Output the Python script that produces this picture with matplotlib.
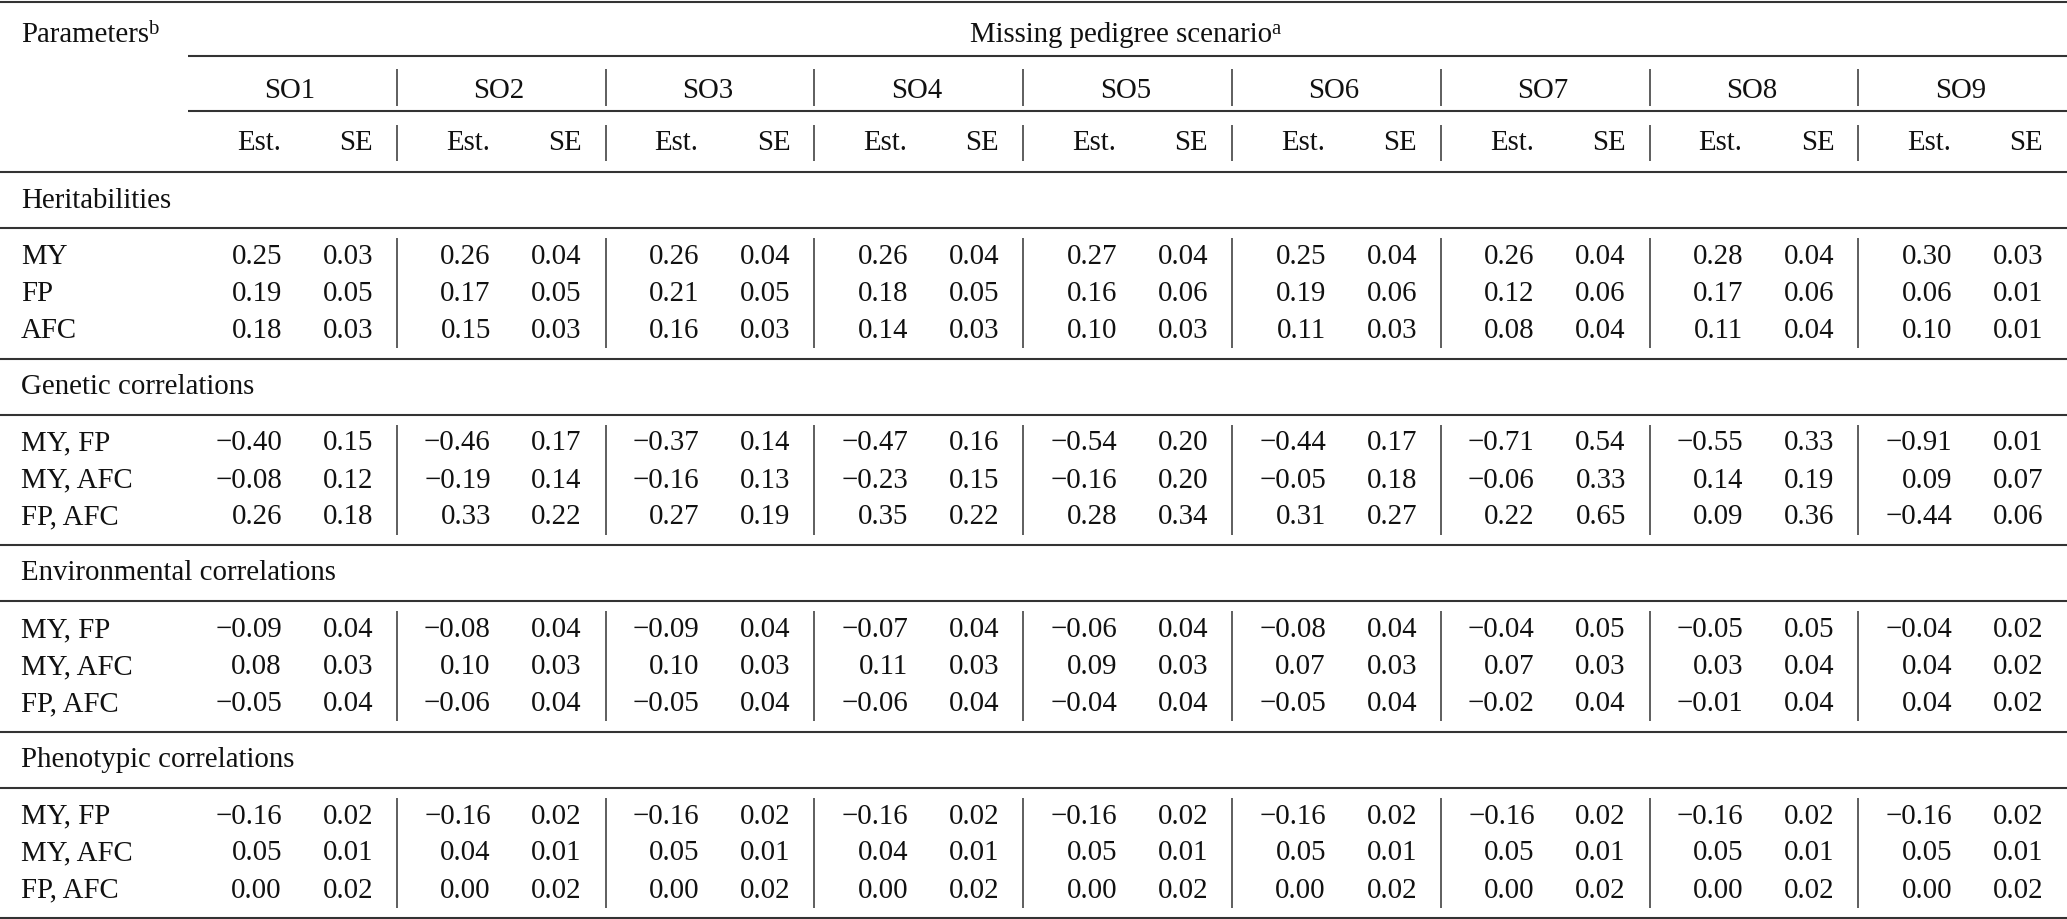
import matplotlib.pyplot as plt

plt.rcParams['font.family'] = ['Liberation Serif', 'DejaVu Serif']

scenarios = ['SO1', 'SO2', 'SO3', 'SO4', 'SO5', 'SO6', 'SO7', 'SO8', 'SO9']
traits = ['MY', 'FP', 'AFC']
pairs = ['MY, FP', 'MY, AFC', 'FP, AFC']

# Heritabilities (rows: MY, FP, AFC; columns: SO1..SO9)
herit_est = [[0.25, 0.26, 0.26, 0.26, 0.27, 0.25, 0.26, 0.28, 0.30],
             [0.19, 0.17, 0.21, 0.18, 0.16, 0.19, 0.12, 0.17, 0.06],
             [0.18, 0.15, 0.16, 0.14, 0.10, 0.11, 0.08, 0.11, 0.10]]
herit_se = [[0.03, 0.04, 0.04, 0.04, 0.04, 0.04, 0.04, 0.04, 0.03],
            [0.05, 0.05, 0.05, 0.05, 0.06, 0.06, 0.06, 0.06, 0.01],
            [0.03, 0.03, 0.03, 0.03, 0.03, 0.03, 0.04, 0.04, 0.01]]

# Genetic correlations
gen_est = [[-0.40, -0.46, -0.37, -0.47, -0.54, -0.44, -0.71, -0.55, -0.91],
           [-0.08, -0.19, -0.16, -0.23, -0.16, -0.05, -0.06, 0.14, 0.09],
           [0.26, 0.33, 0.27, 0.35, 0.28, 0.31, 0.22, 0.09, -0.44]]
gen_se = [[0.15, 0.17, 0.14, 0.16, 0.20, 0.17, 0.54, 0.33, 0.01],
          [0.12, 0.14, 0.13, 0.15, 0.20, 0.18, 0.33, 0.19, 0.07],
          [0.18, 0.22, 0.19, 0.22, 0.34, 0.27, 0.65, 0.36, 0.06]]

# Environmental correlations
env_est = [[-0.09, -0.08, -0.09, -0.07, -0.06, -0.08, -0.04, -0.05, -0.04],
           [0.08, 0.10, 0.10, 0.11, 0.09, 0.07, 0.07, 0.03, 0.04],
           [-0.05, -0.06, -0.05, -0.06, -0.04, -0.05, -0.02, -0.01, 0.04]]
env_se = [[0.04, 0.04, 0.04, 0.04, 0.04, 0.04, 0.05, 0.05, 0.02],
          [0.03, 0.03, 0.03, 0.03, 0.03, 0.03, 0.03, 0.04, 0.02],
          [0.04, 0.04, 0.04, 0.04, 0.04, 0.04, 0.04, 0.04, 0.02]]

# Phenotypic correlations
phen_est = [[-0.16, -0.16, -0.16, -0.16, -0.16, -0.16, -0.16, -0.16, -0.16],
            [0.05, 0.04, 0.05, 0.04, 0.05, 0.05, 0.05, 0.05, 0.05],
            [0.00, 0.00, 0.00, 0.00, 0.00, 0.00, 0.00, 0.00, 0.00]]
phen_se = [[0.02, 0.02, 0.02, 0.02, 0.02, 0.02, 0.02, 0.02, 0.02],
           [0.01, 0.01, 0.01, 0.01, 0.01, 0.01, 0.01, 0.01, 0.01],
           [0.02, 0.02, 0.02, 0.02, 0.02, 0.02, 0.02, 0.02, 0.02]]

sections = [('Heritabilities', traits, herit_est, herit_se),
            ('Genetic correlations', pairs, gen_est, gen_se),
            ('Environmental correlations', pairs, env_est, env_se),
            ('Phenotypic correlations', pairs, phen_est, phen_se)]

W, H = 2067, 919
fig = plt.figure(figsize=(W / 100, H / 100), dpi=100)
ax = fig.add_axes([0, 0, 1, 1])
ax.set_xlim(0, W)
ax.set_ylim(H, 0)
ax.axis('off')
renderer = fig.canvas.get_renderer()

fs = 20.8
tc = '#111111'
lc = '#333333'
half = 9.5          # half digit height, centre -> baseline
x_lab = 21
g0, gw = 188, 208.8


def txt(x, yc, s, ha='left', size=fs):
    return ax.text(x, yc + half, s, ha=ha, va='baseline', fontsize=size, color=tc)


def txt_sup(x, yc, s, sup, ha='left'):
    # main text plus a raised, smaller footnote letter
    t = txt(x, yc, s, ha=ha)
    bb = t.get_window_extent(renderer)
    x_end = ax.transData.inverted().transform((bb.x1, bb.y0))[0]
    ax.text(x_end - 1, yc + half - 9, sup, ha='left', va='baseline',
            fontsize=fs * 0.72, color=tc)


def hline(y, x0=0, x1=W):
    ax.plot([x0, x1], [y, y], color=lc, lw=1.5, solid_capstyle='butt')


def vline(x, y0, y1):
    ax.plot([x, x], [y0, y1], color=lc, lw=1.1, solid_capstyle='butt')


def fmt(v):
    return '{:.2f}'.format(v).replace('-', '\u2212')


# header
hline(1.5)
txt_sup(x_lab, 33, 'Parameters', 'b')
txt_sup((g0 + W) / 2 - 6, 33, 'Missing pedigree scenario', 'a', ha='center')
hline(56, g0)
for i, s in enumerate(scenarios):
    gs = g0 + gw * i
    txt(gs + 102, 88, s, ha='center')
    txt(gs + 71, 140, 'Est.', ha='center')
    txt(gs + 168, 140, 'SE', ha='center')
    if i < len(scenarios) - 1:
        vline(gs + gw, 69, 106)
        vline(gs + gw, 125, 161)
hline(111, g0)
hline(172)

# body
y = 172
for title, labels, est, se in sections:
    txt(x_lab, y + 26, title)
    y += 56
    hline(y)
    for r, lab in enumerate(labels):
        yc = y + 26.5 + 37 * r
        txt(x_lab, yc, lab)
        for i in range(len(scenarios)):
            gs = g0 + gw * i
            txt(gs + 94, yc, fmt(est[r][i]), ha='right')
            txt(gs + 185, yc, fmt(se[r][i]), ha='right')
    for i in range(len(scenarios) - 1):
        vline(g0 + gw * (i + 1), y + 10, y + 120)
    y += 130.5
    hline(y)

fig.savefig('out.png', dpi=100, facecolor='white')
